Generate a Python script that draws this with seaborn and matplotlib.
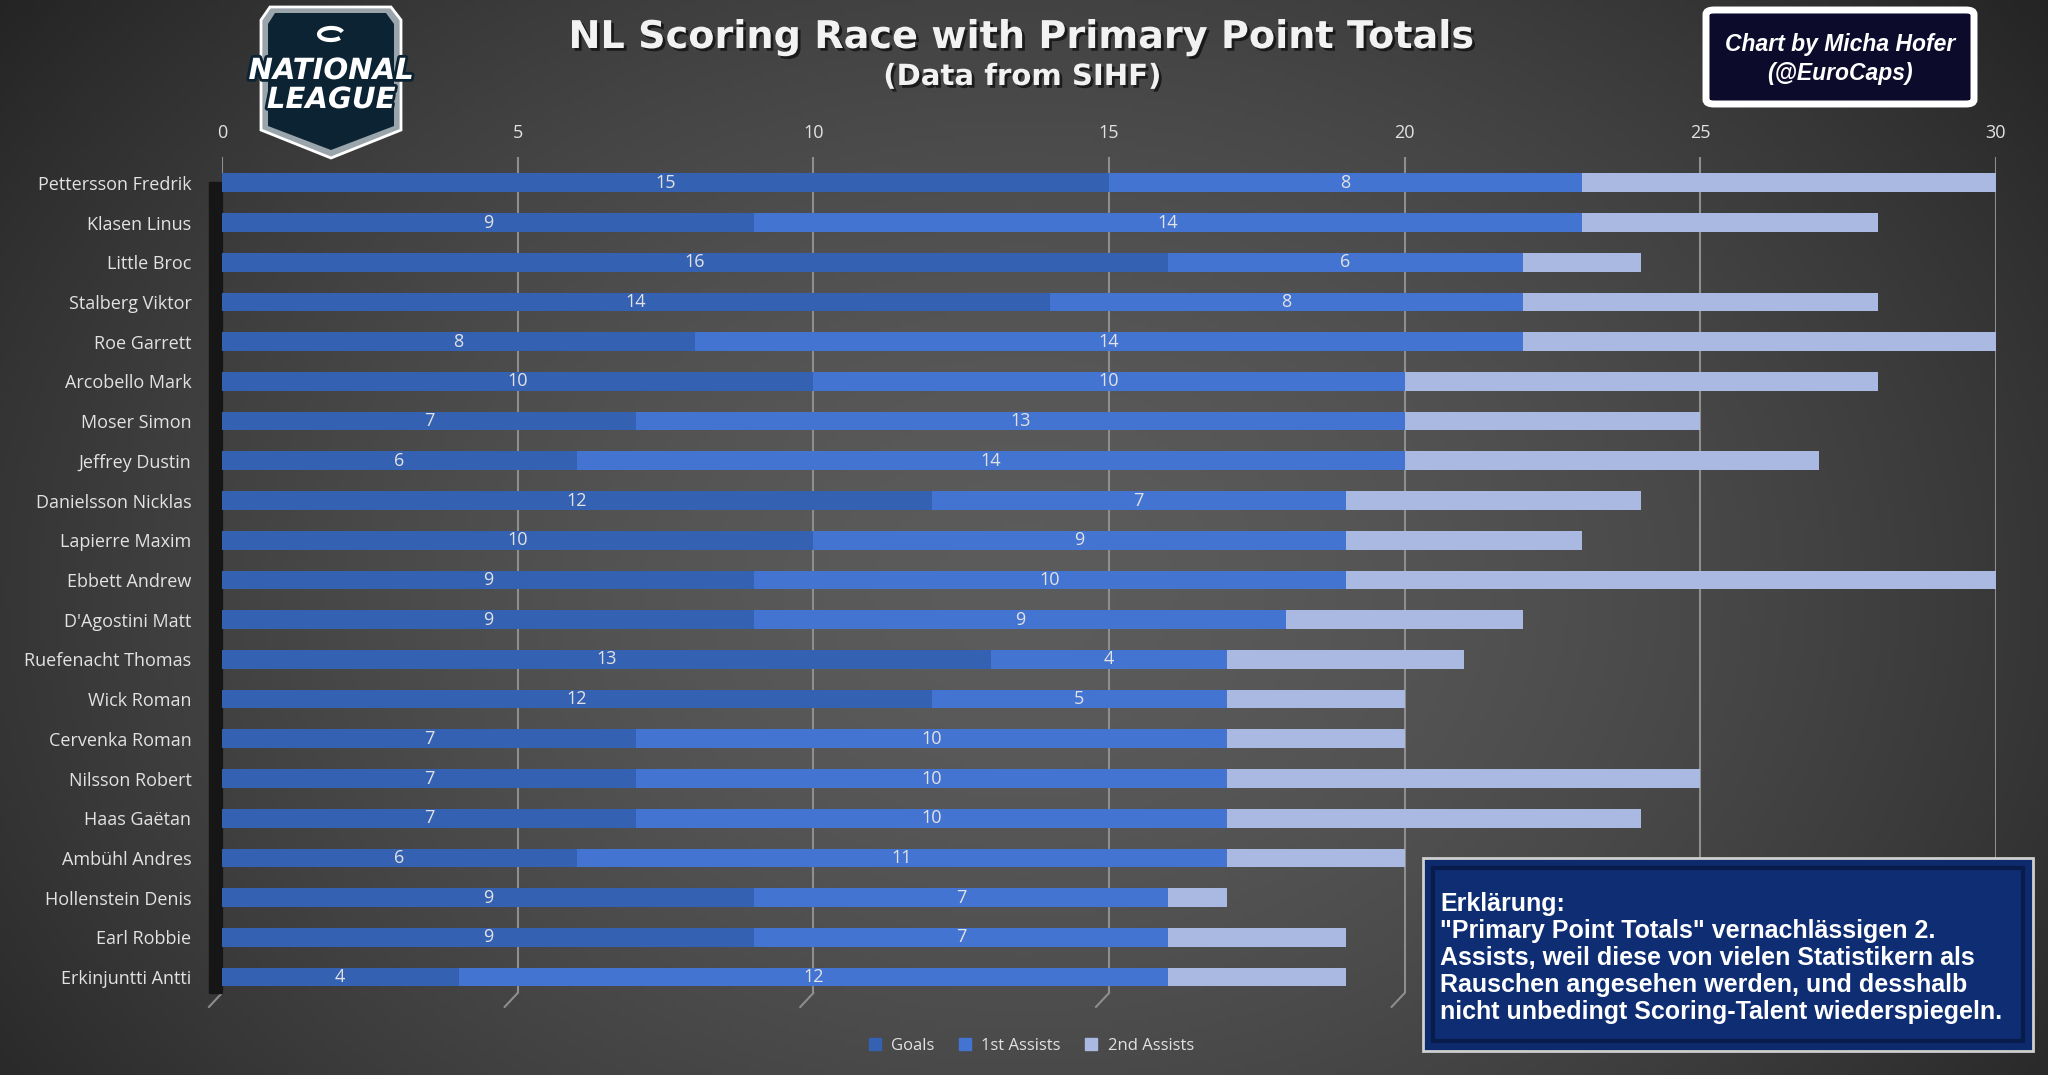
import numpy as np
import pandas as pd
import seaborn as sns
import matplotlib.pyplot as plt
from matplotlib.lines import Line2D
from matplotlib.patches import Polygon, FancyBboxPatch, Rectangle, Arc
import matplotlib.patheffects as pe

players = ["Pettersson Fredrik", "Klasen Linus", "Little Broc", "Stalberg Viktor",
           "Roe Garrett", "Arcobello Mark", "Moser Simon", "Jeffrey Dustin",
           "Danielsson Nicklas", "Lapierre Maxim", "Ebbett Andrew", "D'Agostini Matt",
           "Ruefenacht Thomas", "Wick Roman", "Cervenka Roman", "Nilsson Robert",
           "Haas Gaëtan", "Ambühl Andres", "Hollenstein Denis", "Earl Robbie",
           "Erkinjuntti Antti"]
goals = [15, 9, 16, 14, 8, 10, 7, 6, 12, 10, 9, 9, 13, 12, 7, 7, 7, 6, 9, 9, 4]
first_assists = [8, 14, 6, 8, 14, 10, 13, 14, 7, 9, 10, 9, 4, 5, 10, 10, 10, 11, 7, 7, 12]
second_assists = [7, 5, 2, 6, 8, 8, 5, 7, 5, 4, 11, 4, 4, 3, 3, 8, 7, 3, 1, 3, 3]
x_ticks = [0, 5, 10, 15, 20, 25, 30]

c_goals = "#3561b3"
c_first = "#4474d2"
c_second = "#aab9e2"
txt = "#e2e2e2"

df = pd.DataFrame({"player": players, "goals": goals,
                   "first": first_assists, "second": second_assists})
df["primary"] = df["goals"] + df["first"]
df["total"] = df["primary"] + df["second"]

W, H = 2048, 1075
fig = plt.figure(figsize=(W / 100, H / 100), dpi=100)

# background: soft radial gradient
bg = fig.add_axes([0, 0, 1, 1], zorder=-10)
gx, gy = np.meshgrid(np.linspace(0, 1, 400), np.linspace(0, 1, 220))
r = np.sqrt(((gx - 0.5) / 0.6) ** 2 + ((gy - 0.55) / 0.85) ** 2)
shade = np.clip(0.36 - 0.2 * r ** 1.6, 0.14, 0.36)
bg.imshow(np.dstack([shade] * 3), extent=[0, 1, 0, 1], aspect="auto", origin="upper")
bg.axis("off")

ax = fig.add_axes([222 / W, 1 - 993 / H, 1774 / W, 836 / H])
ax.set_facecolor("none")

sns.barplot(data=df, y="player", x="total", color=c_second, orient="h",
            width=0.47, saturation=1, ax=ax, zorder=3)
sns.barplot(data=df, y="player", x="primary", color=c_first, orient="h",
            width=0.47, saturation=1, ax=ax, zorder=4)
sns.barplot(data=df, y="player", x="goals", color=c_goals, orient="h",
            width=0.47, saturation=1, ax=ax, zorder=5)

for i, row in df.iterrows():
    ax.text(row["goals"] / 2, i, str(row["goals"]), ha="center", va="center",
            color=txt, fontsize=13, family="Open Sans", zorder=6)
    ax.text(row["goals"] + row["first"] / 2, i, str(row["first"]), ha="center",
            va="center", color=txt, fontsize=13, family="Open Sans", zorder=6)

ax.set_xlim(0, 30)
ax.set_ylim(len(players) - 0.6, -0.65)
ax.set_xticks(x_ticks)
ax.xaxis.tick_top()
ax.grid(False)
for t in x_ticks:
    ax.axvline(t, color="#8e8e8e", lw=1.5, zorder=1)
    ax.plot([t, t - 0.22], [len(players) - 0.6, len(players) - 0.25],
            color="#8e8e8e", lw=1.5, clip_on=False, zorder=1)
ax.axvspan(-0.22, 0, ymin=0.0, ymax=0.97, color="#161616", clip_on=False, zorder=2)
for s in ax.spines.values():
    s.set_visible(False)
ax.tick_params(axis="both", length=0, colors=txt, labelsize=13)
ax.tick_params(axis="x", pad=11)
ax.tick_params(axis="y", pad=22)
for lab in ax.get_xticklabels() + ax.get_yticklabels():
    lab.set_family("Open Sans")
ax.set_xlabel("")
ax.set_ylabel("")

# legend
handles = [Line2D([], [], marker="s", ls="", color=c, markersize=8)
           for c in [c_goals, c_first, c_second]]
fig.legend(handles, ["Goals", "1st Assists", "2nd Assists"], loc="center",
           bbox_to_anchor=(1026 / W, 1 - 1046 / H), ncol=3, frameon=False,
           handletextpad=0.0, columnspacing=0.8, prop={"family": "Open Sans", "size": 12},
           labelcolor=txt)

# title
shadow = [pe.withSimplePatchShadow(offset=(2, -2), shadow_rgbFace="black", alpha=0.6)]
fig.text(1022 / W, 1 - 38 / H, "NL Scoring Race with Primary Point Totals",
         ha="center", va="center", color="#f2f2f2", fontsize=27.5, weight="bold",
         family="DejaVu Sans", path_effects=shadow)
fig.text(1022 / W, 1 - 77 / H, "(Data from SIHF)", ha="center", va="center",
         color="#f2f2f2", fontsize=21, weight="bold", family="DejaVu Sans",
         path_effects=shadow)

# credit box
fig.patches.append(FancyBboxPatch((1706 / W, 1 - 104 / H), 268 / W, 94 / H,
                                  boxstyle="round,pad=0,rounding_size=0.004",
                                  transform=fig.transFigure, facecolor="#0c0b2c",
                                  edgecolor="white", lw=5, zorder=5))
fig.text(1840 / W, 1 - 59 / H, "Chart by Micha Hofer\n(@EuroCaps)", ha="center",
         va="center", color="white", fontsize=16.5, weight="bold", style="italic",
         family="Liberation Sans", linespacing=1.3, zorder=6)

# explanation box
fig.patches.append(Rectangle((1423 / W, 1 - 1051 / H), 610 / W, 193 / H,
                             transform=fig.transFigure, facecolor="#0d2a6c",
                             edgecolor="#cfcfcf", lw=2, zorder=5))
fig.patches.append(Rectangle((1433 / W, 1 - 1041 / H), 590 / W, 173 / H,
                             transform=fig.transFigure, facecolor="#0f2d73",
                             edgecolor="#081c4c", lw=3, zorder=5))
expl = ("Erklärung:\n\"Primary Point Totals\" vernachlässigen 2.\n"
        "Assists, weil diese von vielen Statistikern als\n"
        "Rauschen angesehen werden, und desshalb\n"
        "nicht unbedingt Scoring-Talent wiederspiegeln.")
fig.text(1440 / W, 1 - 958 / H, expl, ha="left", va="center", color="white",
         fontsize=18, weight="bold", family="Liberation Sans", linespacing=1.17, zorder=6)

# league logo (simplified shield)
def fp(x, y):
    return (x / W, 1 - y / H)

outer = [fp(270, 7), fp(391, 7), fp(401, 20), fp(401, 130), fp(331, 158),
         fp(261, 130), fp(261, 20)]
inner = [fp(275, 13), fp(386, 13), fp(394, 24), fp(394, 126), fp(331, 150),
         fp(268, 126), fp(268, 24)]
fig.patches.append(Polygon(outer, closed=True, transform=fig.transFigure,
                           facecolor="#9aa4ab", edgecolor="white", lw=2, zorder=5))
fig.patches.append(Polygon(inner, closed=True, transform=fig.transFigure,
                           facecolor="#0c2333", edgecolor="none", zorder=5))
fig.patches.append(Arc(fp(331, 34), 24 / W, 12 / H, angle=20, theta1=0, theta2=300,
                       transform=fig.transFigure, color="white", lw=3, zorder=6))
logo_fx = [pe.withStroke(linewidth=4, foreground="#0c2333")]
fig.text(331 / W, 1 - 71 / H, "NATIONAL", ha="center", va="center", color="white",
         fontsize=21, weight="bold", style="italic",
         family=["Liberation Sans Narrow", "DejaVu Sans"], path_effects=logo_fx, zorder=7)
fig.text(331 / W, 1 - 100 / H, "LEAGUE", ha="center", va="center", color="white",
         fontsize=21, weight="bold", style="italic",
         family=["Liberation Sans Narrow", "DejaVu Sans"], path_effects=logo_fx, zorder=7)

fig.savefig("out.png", dpi=100)
